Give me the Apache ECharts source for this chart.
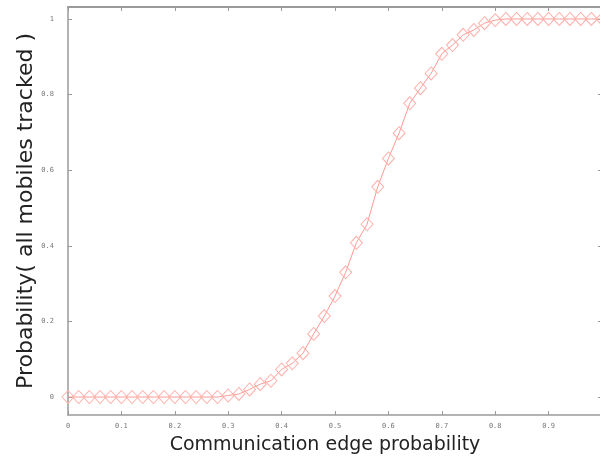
<!DOCTYPE html>
<html>
<head>
<meta charset="utf-8">
<script src="https://cdn.jsdelivr.net/npm/echarts@6/dist/echarts.min.js"></script>
<style>
  html, body { margin: 0; padding: 0; background: #fff; }
  #chart { width: 600px; height: 459px; }
</style>
</head>
<body>
<div id="chart"></div>
<script>
// edge probability (x) and probability that all mobiles are tracked (y)
var edgeProb = [0, 0.02, 0.04, 0.06, 0.08, 0.1, 0.12, 0.14, 0.16, 0.18,
    0.2, 0.22, 0.24, 0.26, 0.28, 0.3, 0.32, 0.34, 0.36, 0.38,
    0.4, 0.42, 0.44, 0.46, 0.48, 0.5, 0.52, 0.54, 0.56, 0.58,
    0.6, 0.62, 0.64, 0.66, 0.68, 0.7, 0.72, 0.74, 0.76, 0.78,
    0.8, 0.82, 0.84, 0.86, 0.88, 0.9, 0.92, 0.94, 0.96, 0.98, 1];
var trackedProb = [0, 0, 0, 0, 0, 0, 0, 0, 0, 0,
    0, 0, 0, 0, 0, 0.004, 0.008, 0.02, 0.034, 0.043,
    0.073, 0.089, 0.116, 0.167, 0.214, 0.267, 0.33, 0.408, 0.457, 0.556,
    0.631, 0.698, 0.777, 0.817, 0.856, 0.908, 0.931, 0.958, 0.971, 0.989,
    0.997, 1, 1, 1, 1, 1, 1, 1, 1, 1, 1];
var yTicks = [0, 0.2, 0.4, 0.6, 0.8, 1];

var chart = echarts.init(document.getElementById('chart'));

var axisGray = '#9a9a9a';
var labelStyle = {
    color: '#777',
    fontSize: 7,
    fontFamily: 'DejaVu Sans Mono'
};

var option = {
    backgroundColor: '#fff',
    animation: false,
    grid: { left: 68, right: -2, top: 7, bottom: 44, outerBoundsMode: 'none' },
    xAxis: [{
        type: 'value',
        min: 0,
        max: 1,
        interval: 0.1,
        name: 'Communication edge probability',
        nameLocation: 'middle',
        nameGap: 21,
        nameMoveOverlap: false,
        nameTextStyle: { fontSize: 19, color: '#222', fontFamily: 'DejaVu Sans', padding: [0, 20, 0, 0] },
        axisLine: { onZero: false, lineStyle: { color: axisGray, width: 1.5 } },
        axisTick: { inside: true, length: 4, lineStyle: { color: axisGray } },
        axisLabel: Object.assign({
            margin: 8,
            formatter: function (v) { return v >= 1 ? '' : String(Math.round(v * 10) / 10); }
        }, labelStyle),
        splitLine: { show: false }
    }, {
        type: 'value',
        position: 'top',
        min: 0,
        max: 1,
        interval: 0.1,
        axisLine: { onZero: false, lineStyle: { color: axisGray, width: 2 } },
        axisTick: { inside: true, length: 4, lineStyle: { color: axisGray } },
        axisLabel: { show: false },
        splitLine: { show: false }
    }],
    yAxis: [{
        type: 'value',
        min: -0.0476,
        max: 1.0317,
        name: 'Probability( all mobiles tracked )',
        nameLocation: 'middle',
        nameGap: 31,
        nameMoveOverlap: false,
        nameTextStyle: { fontSize: 22, color: '#222', fontFamily: 'DejaVu Sans' },
        axisLine: { show: true, onZero: false, lineStyle: { color: axisGray, width: 1.5 } },
        axisTick: { show: true, inside: true, length: 4, customValues: yTicks, lineStyle: { color: axisGray } },
        axisLabel: Object.assign({
            margin: 14,
            customValues: yTicks,
            formatter: function (v) { return String(Math.round(v * 10) / 10); }
        }, labelStyle),
        splitLine: { show: false }
    }, {
        type: 'value',
        position: 'right',
        min: -0.0476,
        max: 1.0317,
        axisLine: { show: true, onZero: false, lineStyle: { color: axisGray, width: 1.5 } },
        axisTick: { show: true, inside: true, length: 4, customValues: yTicks, lineStyle: { color: axisGray } },
        axisLabel: { show: false },
        splitLine: { show: false }
    }],
    series: [{
        type: 'line',
        data: edgeProb.map(function (x, i) { return [x, trackedProb[i]]; }),
        symbol: 'diamond',
        symbolSize: [12, 13],
        showAllSymbol: true,
        clip: false,
        lineStyle: { color: '#ff9a94', width: 1 },
        itemStyle: { color: 'rgba(255,255,255,0)', borderColor: '#ffb0aa', borderWidth: 1 }
    }]
};

chart.setOption(option);
</script>
</body>
</html>
